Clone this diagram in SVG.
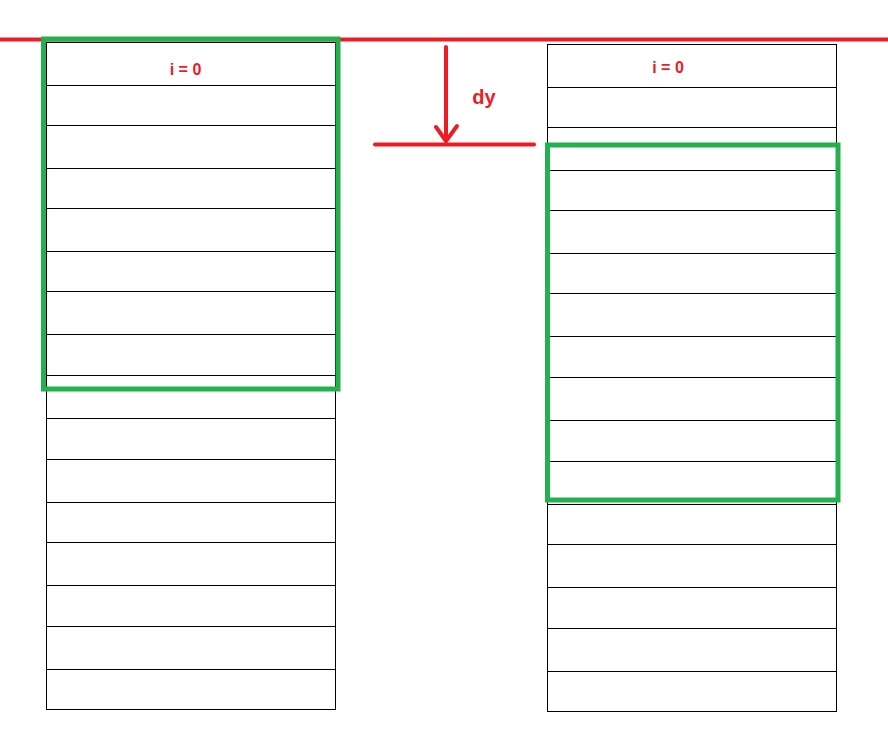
<svg xmlns="http://www.w3.org/2000/svg" width="888" height="745" viewBox="0 0 888 745">
<style>
.cell{fill:#fff;stroke:#000;stroke-width:1}
.div{stroke:#000;stroke-width:1}
.red{stroke:#ED1C24;stroke-width:4;fill:none;stroke-linecap:round;stroke-linejoin:round}
.grn{fill:none;stroke:#22B14C;stroke-width:5}
.lbl{font-family:"Liberation Sans",Arial,sans-serif;font-weight:bold;fill:#ED1C24}
</style>
<rect width="888" height="745" fill="#fff"/>
<g id="left-column">
<g id="L0"><rect class="cell" x="46.5" y="42.5" width="289" height="83"/><line class="div" x1="46.5" y1="85.5" x2="335.5" y2="85.5"/></g>
<g id="L1"><rect class="cell" x="46.5" y="125.5" width="289" height="83"/><line class="div" x1="46.5" y1="168.5" x2="335.5" y2="168.5"/></g>
<g id="L2"><rect class="cell" x="46.5" y="208.5" width="289" height="83"/><line class="div" x1="46.5" y1="251.5" x2="335.5" y2="251.5"/></g>
<g id="L3"><rect class="cell" x="46.5" y="291.5" width="289" height="84"/><line class="div" x1="46.5" y1="334.5" x2="335.5" y2="334.5"/></g>
<g id="L4"><rect class="cell" x="46.5" y="375.5" width="289" height="84"/><line class="div" x1="46.5" y1="418.5" x2="335.5" y2="418.5"/></g>
<g id="L5"><rect class="cell" x="46.5" y="459.5" width="289" height="83"/><line class="div" x1="46.5" y1="502.5" x2="335.5" y2="502.5"/></g>
<g id="L6"><rect class="cell" x="46.5" y="542.5" width="289" height="84"/><line class="div" x1="46.5" y1="585.5" x2="335.5" y2="585.5"/></g>
<g id="L7"><rect class="cell" x="46.5" y="626.5" width="289" height="83"/><line class="div" x1="46.5" y1="669.5" x2="335.5" y2="669.5"/></g>
<text class="lbl" x="185.5" y="74.5" font-size="16" text-anchor="middle">i = 0</text>
</g>
<g id="right-column">
<g id="R0"><rect class="cell" x="547.5" y="44.5" width="289" height="83"/><line class="div" x1="547.5" y1="87.5" x2="836.5" y2="87.5"/></g>
<g id="R1"><rect class="cell" x="547.5" y="127.5" width="289" height="83"/><line class="div" x1="547.5" y1="170.5" x2="836.5" y2="170.5"/></g>
<g id="R2"><rect class="cell" x="547.5" y="210.5" width="289" height="83"/><line class="div" x1="547.5" y1="253.5" x2="836.5" y2="253.5"/></g>
<g id="R3"><rect class="cell" x="547.5" y="293.5" width="289" height="84"/><line class="div" x1="547.5" y1="336.5" x2="836.5" y2="336.5"/></g>
<g id="R4"><rect class="cell" x="547.5" y="377.5" width="289" height="84"/><line class="div" x1="547.5" y1="420.5" x2="836.5" y2="420.5"/></g>
<g id="R5"><rect class="cell" x="547.5" y="461.5" width="289" height="83"/><line class="div" x1="547.5" y1="504.5" x2="836.5" y2="504.5"/></g>
<g id="R6"><rect class="cell" x="547.5" y="544.5" width="289" height="84"/><line class="div" x1="547.5" y1="587.5" x2="836.5" y2="587.5"/></g>
<g id="R7"><rect class="cell" x="547.5" y="628.5" width="289" height="83"/><line class="div" x1="547.5" y1="671.5" x2="836.5" y2="671.5"/></g>
<text class="lbl" x="668" y="72.5" font-size="16" text-anchor="middle">i = 0</text>
</g>
<g id="connectors">
<line x1="0" y1="39.5" x2="888" y2="39.5" stroke="#ED1C24" stroke-width="4"/>
<line class="red" x1="446" y1="47" x2="446" y2="141"/>
<polyline class="red" points="436,127 446,141 457,126"/>
<line class="red" x1="375" y1="144.5" x2="534" y2="144.5"/>
<text class="lbl" x="484" y="104" font-size="20" text-anchor="middle">dy</text>
</g>
<g id="windows">
<rect class="grn" x="43.5" y="39" width="294.5" height="350"/>
<rect class="grn" x="547.5" y="145" width="290.5" height="355"/>
</g>
</svg>
